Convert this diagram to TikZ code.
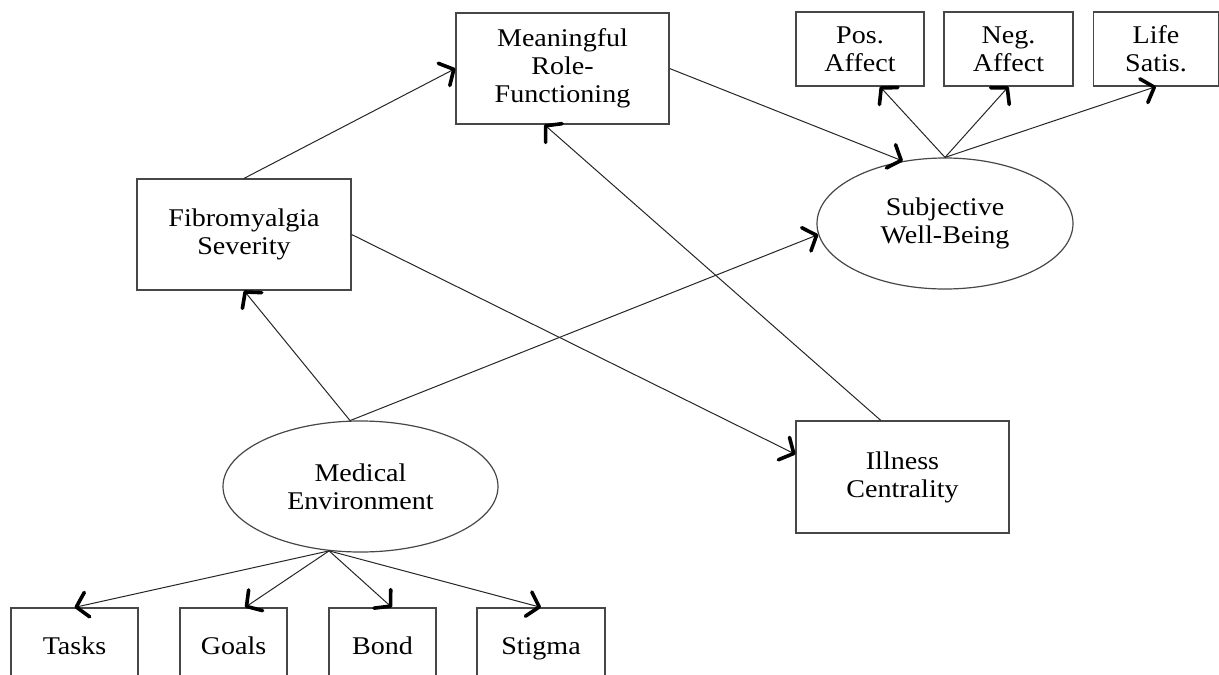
\documentclass[tikz,border=0pt]{standalone}
\usepackage{fontspec}
\setmainfont{Liberation Serif}[FakeStretch=1.1]
\usetikzlibrary{arrows.meta,shapes.geometric}
\begin{document}
\begin{tikzpicture}[x=1pt,y=-1pt,
  lbl/.style={font=\fontsize{25.5}{28}\selectfont, align=center, inner sep=0pt,
    execute at begin node={\rule{0pt}{30pt}}},
  box/.style={lbl, rectangle, draw=black!72, line width=1.2pt},
  item/.style={box, minimum height=74pt, text height=22pt, text depth=4pt},
  oval/.style={lbl, ellipse, draw=black!72, line width=1.2pt},
  link/.style={draw=black!85, line width=1pt,
    -{Straight Barb[length=11pt,width=25pt,line width=3.6pt,round,color=black]}}]
\useasboundingbox (0,0) rectangle (1219,675);
\clip (0,0) rectangle (1219,675);

% measured constructs
\node[box, minimum width=213pt, minimum height=111pt] (mrf) at (562.5,68.5) {Meaningful\\Role-\\Functioning};
\node[box, minimum width=128pt, minimum height=74pt] (pos) at (860,49) {Pos.\\Affect};
\node[box, minimum width=129pt, minimum height=74pt] (neg) at (1008.5,49) {Neg.\\Affect};
\node[box, minimum width=125pt, minimum height=74pt] (life) at (1156,49) {Life\\Satis.};
\node[box, minimum width=214pt, minimum height=111pt] (fib) at (244,234.5) {Fibromyalgia\\Severity};
\node[box, minimum width=213pt, minimum height=112pt] (ill) at (902.5,477) {Illness\\Centrality};

% latent constructs
\node[oval, minimum width=256pt, minimum height=131pt] (swb) at (945,223.5) {Subjective\\Well-Being};
\node[oval, minimum width=275pt, minimum height=131pt] (me) at (360.5,486.5) {Medical\\Environment};

% indicators of the medical environment
\node[item, minimum width=127pt] (tasks) at (74.5,645) {Tasks};
\node[item, minimum width=107pt] (goals) at (233.5,645) {Goals};
\node[item, minimum width=107pt] (bond) at (382.5,645) {Bond};
\node[item, minimum width=128pt] (stigma) at (541,645) {Stigma};

% paths
\draw[link] (fib.north) -- (mrf.west);
\draw[link] (mrf.east) -- (swb.124);
\draw[link] (swb.north) -- (pos.-62);
\draw[link] (swb.north) -- (neg.south);
\draw[link] (swb.north) -- (life.south);
\draw[link] (me.99) -- (fib.south);
\draw[link] (me.99) -- (swb.185);
\draw[link] (fib.east) -- (ill.168);
\draw[link] (ill.111) -- (mrf.252);
\draw[link] (me.244) -- (tasks.north);
\draw[link] (me.244) -- (goals.73);
\draw[link] (me.244) -- (bond.76);
\draw[link] (me.244) -- (stigma.north);
\end{tikzpicture}
\end{document}
